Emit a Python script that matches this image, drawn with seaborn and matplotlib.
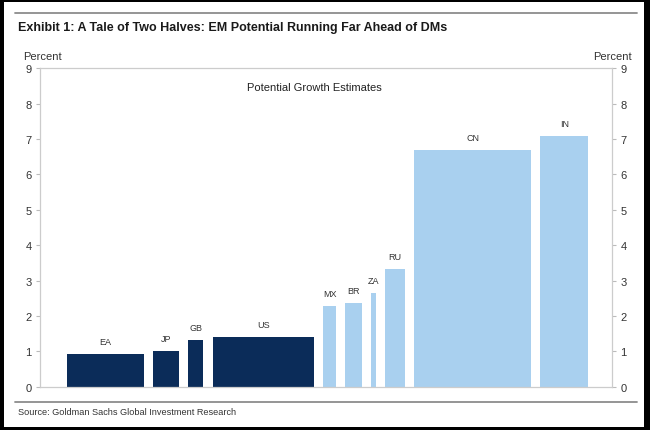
import numpy as np
import matplotlib
matplotlib.use("Agg")
import matplotlib.pyplot as plt
import seaborn as sns
from matplotlib.patches import Rectangle
from matplotlib.lines import Line2D

# -----------------------------
# Data
# -----------------------------
countries = ["EA", "JP", "GB", "US", "MX", "BR", "ZA", "RU", "CN", "IN"]
growth = [0.93, 1.0, 1.31, 1.41, 2.27, 2.36, 2.64, 3.32, 6.69, 7.09]
# bar widths (relative economy size, arbitrary units)
sizes = [7.66, 2.64, 1.50, 10.17, 1.24, 1.70, 0.44, 2.03, 11.66, 4.80]
group = ["DM", "DM", "DM", "DM", "EM", "EM", "EM", "EM", "EM", "EM"]
yticks = list(range(0, 10))

title = "Exhibit 1: A Tale of Two Halves: EM Potential Running Far Ahead of DMs"
subtitle = "Potential Growth Estimates"
source = "Source: Goldman Sachs Global Investment Research"

colors = {"DM": "#0b2c59", "EM": "#a9d0ef"}

# -----------------------------
# Style
# -----------------------------
sns.set_theme(style="white")
plt.rcParams["font.family"] = ["Liberation Sans", "DejaVu Sans"]

fig = plt.figure(figsize=(6.5, 4.31), dpi=100, facecolor="black")
W, H = 650, 431

# white page inside black frame
fig.patches.append(Rectangle((4 / W, 3 / H), 640 / W, 425 / H,
                             transform=fig.transFigure, facecolor="white",
                             edgecolor="none", zorder=-1))

# rules
fig.add_artist(Line2D([15 / W, 637 / W], [1 - 14 / H, 1 - 14 / H],
                      color="#8c8c8c", lw=1.3))
fig.add_artist(Line2D([15 / W, 637 / W], [1 - 403 / H, 1 - 403 / H],
                      color="#8c8c8c", lw=1.3))

fig.text(18 / W, 1 - 28.5 / H, title, fontweight="bold",
         fontsize=9, color="#1a1a1a", va="center", ha="left")
fig.text(18 / W, 1 - 413 / H, source, fontsize=6.6,
         color="#333333", va="center", ha="left")

# -----------------------------
# Bars
# -----------------------------
ax = fig.add_axes([40 / W, 43.3 / H, 572 / W, 318.4 / H])

gap = 0.92
margin_left = 2.7
lefts = margin_left + np.concatenate([[0], np.cumsum(np.array(sizes[:-1]) + gap)])
bar_colors = [colors[g] for g in group]

ax.bar(lefts, growth, width=sizes, align="edge", color=bar_colors,
       edgecolor="none", zorder=2)

for x0, w, h, lab in zip(lefts, sizes, growth, countries):
    ax.annotate(lab, (x0 + w / 2, h), xytext=(0, 9), textcoords="offset points",
                ha="center", va="center", fontsize=6.5, color="#333333")

ax.set_xlim(0, 57.2)
ax.set_ylim(0, 9)
ax.set_xticks([])
ax.set_yticks(yticks)
ax.tick_params(axis="y", which="both", left=True, right=True,
               labelleft=True, labelright=True, length=3, width=0.8,
               color="#bbbbbb", labelsize=8, labelcolor="#333333", pad=3)
for s in ax.spines.values():
    s.set_visible(True)
    s.set_color("#cccccc")
    s.set_linewidth(0.9)

ax.text(0.48, 0.94, subtitle, transform=ax.transAxes, ha="center",
        va="center", fontsize=8, color="#222222")

fig.text(42 / W, 1 - 57 / H, "Percent", ha="center", va="center",
         fontsize=8, color="#333333")
fig.text(612 / W, 1 - 57 / H, "Percent", ha="center", va="center",
         fontsize=8, color="#333333")

plt.savefig("out.png", dpi=100)
plt.close()
